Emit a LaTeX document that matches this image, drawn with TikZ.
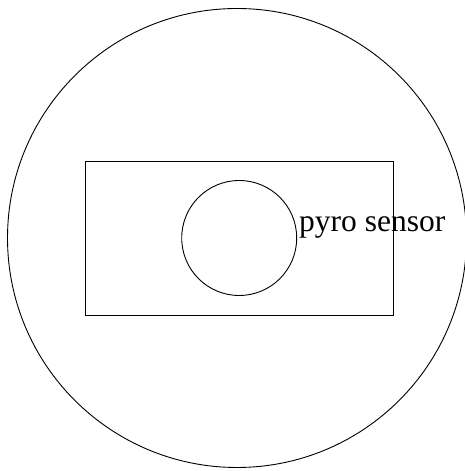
\documentclass[tikz,border=0pt]{standalone}
\usepackage{fontspec}
\setmainfont{Liberation Serif}
\usepackage{tikz}
\usetikzlibrary{positioning}

\begin{document}
\begin{tikzpicture}[
 x=1pt,y=1pt,
 outline/.style={draw,line width=0.9pt,inner sep=0pt},
 ring/.style={outline,circle},
 board/.style={outline,rectangle,minimum width=308pt,minimum height=153.7pt},
 caption/.style={inner sep=0pt,font=\fontsize{31.5}{34}\selectfont}
]
\useasboundingbox (0,0) rectangle (465,471);
\node[ring,minimum size=459pt] (housing) at (237,233) {};
\node[board] (pcb) at (239.7,232.85) {};
\node[ring,minimum size=115pt] (pyro) at (239.2,233) {};
\node[caption,anchor=base west] (label) at (299,239.3) {pyro sensor};
\end{tikzpicture}
\end{document}
